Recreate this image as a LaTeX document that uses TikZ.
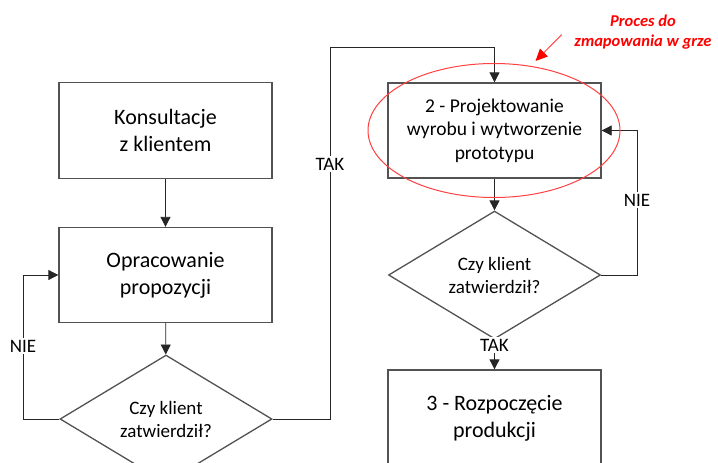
\documentclass[tikz,border=0pt]{standalone}
\usepackage{fontspec}
\setmainfont{Carlito}
\usetikzlibrary{shapes.geometric,arrows.meta}
\begin{document}
\begin{tikzpicture}[x=1pt,y=-1pt,
  procbox/.style={draw=black!68,line width=1.3pt,minimum width=213pt,minimum height=96pt,
    inner sep=0pt,align=center,font=\fontsize{22}{27}\selectfont},
  decision/.style={diamond,draw=black!68,line width=1.3pt,minimum width=212pt,minimum height=94pt,
    inner sep=0pt,align=center,font=\fontsize{19}{23}\selectfont},
  flow/.style={draw=black!85,line width=0.8pt,-{Triangle[width=10pt,length=10pt]}},
  answer/.style={fill=white,inner sep=2pt,font=\fontsize{19}{23}\selectfont},
  note/.style={text=red,align=center,font=\fontsize{16.5}{20}\selectfont\bfseries\itshape}]

\useasboundingbox (0,0) rectangle (718,463);
\clip (0,0) rectangle (718,463);

% process steps and decisions
\node[procbox] (konsult) at (165.5,130.5) {Konsultacje\\z klientem};
\node[procbox,minimum height=95pt] (oprac) at (165.5,275) {Opracowanie\\propozycji};
\node[decision] (dec1) at (166,419) {Czy klient\\zatwierdził?};
\node[procbox,minimum height=95pt,font=\fontsize{19.5}{23.5}\selectfont] (proj) at (494.5,130.5)
  {2 - Projektowanie\\wyrobu i wytworzenie\\prototypu};
\node[decision] (dec2) at (494.5,275) {Czy klient\\zatwierdził?};
\node[procbox,minimum height=97pt] (prod) at (494.5,418.5) {3 - Rozpoczęcie\\produkcji};

% connectors
\coordinate (tak1a) at (330,419);
\coordinate (tak1b) at (330,47);
\coordinate (tak1c) at (494.5,47);
\coordinate (nie1a) at (23,419);
\coordinate (nie1b) at (23,275);
\coordinate (nie2a) at (637,275);
\coordinate (nie2b) at (637,130.5);

\draw[flow] (konsult) -- (oprac);
\draw[flow] (oprac) -- (dec1);
\draw[flow] (dec1.west) -- (nie1a) -- (nie1b) -- (oprac.west);
\draw[flow] (dec1.east) -- (tak1a) -- (tak1b) -- (tak1c) -- (proj.north);
\draw[flow] (proj) -- (dec2);
\draw[flow] (dec2.east) -- (nie2a) -- (nie2b) -- (proj.east);
\draw[flow] (dec2.south) -- (prod.north);

% answer labels
\node[answer] (nie1) at (23,346) {NIE};
\node[answer] (tak1) at (330,164) {TAK};
\node[answer] (nie2) at (637,200) {NIE};
\node[answer] (tak2) at (494.5,345) {TAK};

% highlight of the step to be mapped
\node[draw=red!75,line width=1pt,ellipse,minimum width=252pt,minimum height=134pt] (mark) at (494,130.5) {};
\node[note] (notetext) at (643,32.5) {Proces do\\zmapowania w grze};
\coordinate (notetail) at (561.7,34.7);
\coordinate (notehead) at (535.5,61);
\draw[red!70,line width=1pt,-{Triangle[width=11pt,length=12pt,fill=red,color=red]}] (notetail) -- (notehead);
\end{tikzpicture}
\end{document}
